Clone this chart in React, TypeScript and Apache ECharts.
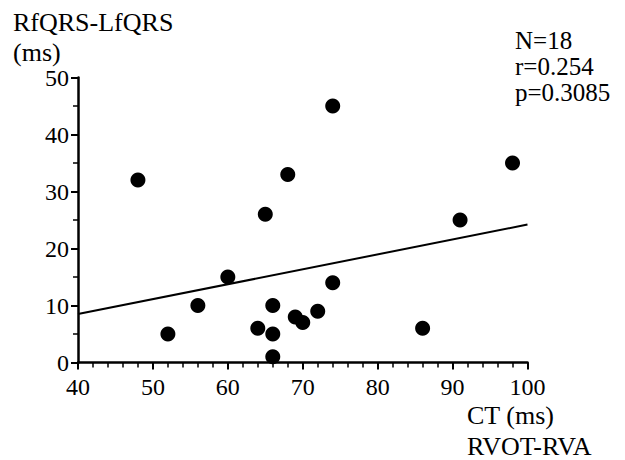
import React, { useEffect, useRef } from "react";
import * as echarts from "echarts";

const xTicks = [40, 50, 60, 70, 80, 90, 100];
const yTicks = [0, 10, 20, 30, 40, 50];
const ctValues = [48, 52, 56, 60, 64, 65, 66, 66, 66, 68, 69, 70, 72, 74, 74, 86, 91, 98];
const qrsValues = [32, 5, 10, 15, 6, 26, 10, 5, 1, 33, 8, 7, 9, 14, 45, 6, 25, 35];
const fitLine = [
  [40, 8.5],
  [100, 24.2],
];
const stats = ["N=18", "r=0.254", "p=0.3085"];
const yTitle = ["RfQRS-LfQRS", "(ms)"];
const xTitle = ["CT (ms)", "RVOT-RVA"];

const FONT = "'Liberation Serif', 'Times New Roman', serif";

export default function App() {
  const ref = useRef<HTMLDivElement>(null);
  useEffect(() => {
    if (!ref.current) return;
    const chart = echarts.init(ref.current, null, { renderer: "svg" });
    const points = ctValues.map((x, i) => [x, qrsValues[i]]);
    const txt = (t: string, x: number, y: number, size: number) => ({
      type: "text",
      x,
      y,
      style: {
        text: t,
        fontFamily: FONT,
        fontSize: size,
        lineHeight: size,
        fill: "#000",
        verticalAlign: "middle",
        align: "left",
      },
    });
    const labelStyle = {
      color: "#000",
      fontFamily: FONT,
      fontSize: 24,
      formatter: "{s|{value}}",
      rich: { s: { fontFamily: FONT, fontSize: 24, color: "#000" } },
    };
    chart.setOption({
      animation: false,
      backgroundColor: "#fff",
      textStyle: { fontFamily: FONT, color: "#000" },
      grid: { left: 78, right: 97.5, top: 77.5, bottom: 97.5, containLabel: false },
      xAxis: {
        type: "value",
        min: xTicks[0],
        max: xTicks[xTicks.length - 1],
        interval: 10,
        axisLine: { show: true, onZero: false, lineStyle: { color: "#000", width: 2.5 } },
        axisTick: { show: true, inside: false, length: 7, lineStyle: { color: "#000", width: 2 } },
        minorTick: { show: true, splitNumber: 5, length: 5, lineStyle: { color: "#000", width: 1.5 } },
        splitLine: { show: false },
        axisLabel: { ...labelStyle, margin: 12 },
      },
      yAxis: {
        type: "value",
        min: yTicks[0],
        max: yTicks[yTicks.length - 1],
        interval: 10,
        axisLine: { show: true, onZero: false, lineStyle: { color: "#000", width: 2.5 } },
        axisTick: { show: true, inside: false, length: 7, lineStyle: { color: "#000", width: 2 } },
        minorTick: { show: true, splitNumber: 2, length: 5, lineStyle: { color: "#000", width: 1.5 } },
        splitLine: { show: false },
        axisLabel: { ...labelStyle, margin: 9 },
      },
      series: [
        {
          type: "line",
          data: fitLine,
          symbol: "none",
          lineStyle: { color: "#000", width: 2 },
          z: 1,
        },
        {
          type: "scatter",
          data: points,
          symbol: "circle",
          symbolSize: 15,
          itemStyle: { color: "#000", opacity: 1 },
          z: 2,
        },
      ],
      graphic: [
        txt(yTitle[0], 13, 22, 26),
        txt(yTitle[1], 13, 52, 26),
        txt(stats[0], 515, 40, 25),
        txt(stats[1], 515, 66, 25),
        txt(stats[2], 515, 92, 25),
        txt(xTitle[0], 467, 415, 26),
        txt(xTitle[1], 467, 446, 26),
      ],
    });
    return () => chart.dispose();
  }, []);
  return (
    <div
      ref={ref}
      style={{ position: "fixed", left: 0, top: 0, width: 625, height: 460, background: "#fff" }}
    />
  );
}
